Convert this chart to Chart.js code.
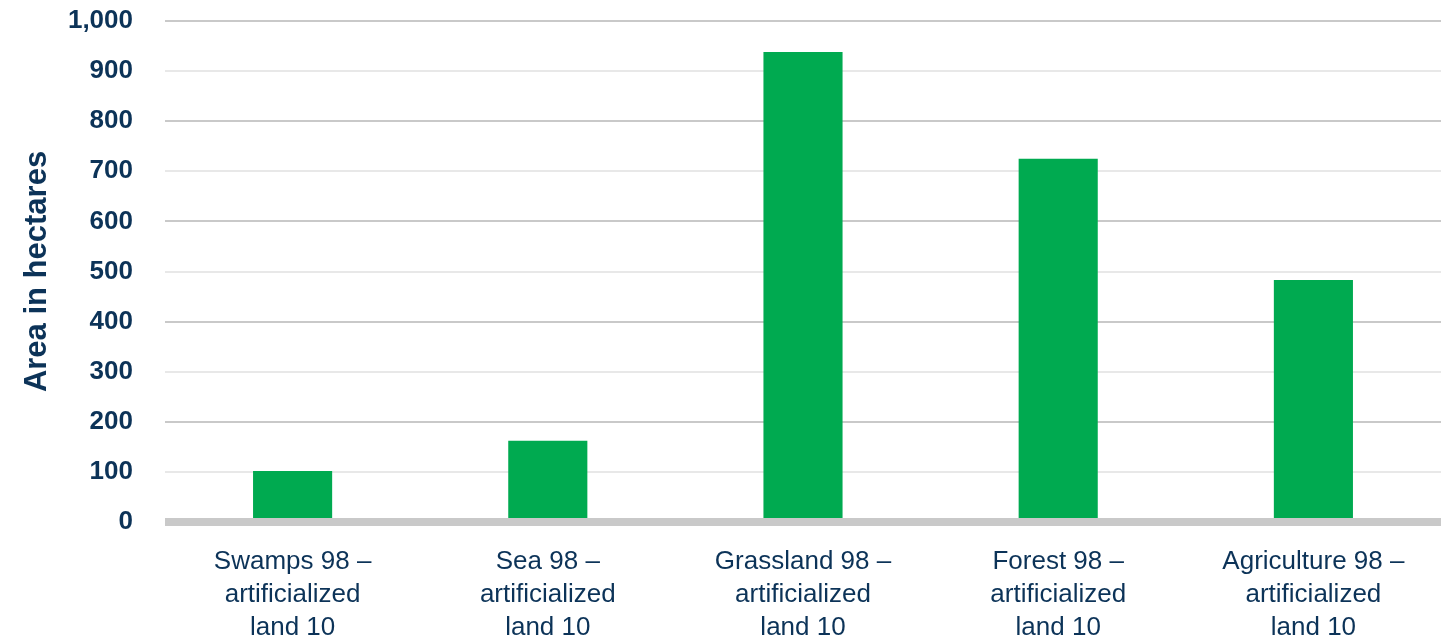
<!DOCTYPE html>
<html>
<head>
<meta charset="utf-8">
<script src="https://cdn.jsdelivr.net/npm/chart.js@4/dist/chart.umd.min.js"></script>
<style>
  html, body { margin: 0; padding: 0; background: #ffffff; }
  #wrap { width: 1441px; height: 643px; position: relative; }
</style>
</head>
<body>
<div id="wrap"><canvas id="c"></canvas></div>
<script>
const categories = [
  ["Swamps 98 –", "artificialized", "land 10"],
  ["Sea 98 –", "artificialized", "land 10"],
  ["Grassland 98 –", "artificialized", "land 10"],
  ["Forest 98 –", "artificialized", "land 10"],
  ["Agriculture 98 –", "artificialized", "land 10"]
];
const areaValues = [102, 162, 938, 725, 483];
const yTitle = "Area in hectares";

const navy = "#0c3358";
const font = "'Liberation Sans', Arial, sans-serif";

new Chart(document.getElementById("c"), {
  type: "bar",
  data: {
    labels: categories,
    datasets: [{
      data: areaValues,
      backgroundColor: "#00aa50",
      borderWidth: 0,
      barPercentage: 0.31,
      categoryPercentage: 1.0
    }]
  },
  options: {
    responsive: true,
    maintainAspectRatio: false,
    animation: false,
    layout: { padding: { left: 19, top: 21, right: 0, bottom: 0 } },
    plugins: { legend: { display: false }, tooltip: { enabled: false } },
    scales: {
      x: {
        grid: { display: false, drawTicks: false },
        border: { display: false },
        ticks: {
          color: navy,
          padding: 23,
          maxRotation: 0,
          autoSkip: false,
          font: { family: font, size: 26, lineHeight: 1.27 }
        },
        afterFit: (s) => {
          s.height = 121;
          s.paddingLeft = 0; s.paddingRight = 0;
          s.paddingTop = 0; s.paddingBottom = 0;
        }
      },
      y: {
        min: 0,
        max: 1000,
        grid: {
          drawTicks: false,
          color: (ctx) => {
            if (!ctx.tick) return "#e6e6e6";
            return ctx.tick.value % 200 === 0 ? "#c9c9c9" : "#e8e8e8";
          },
          lineWidth: (ctx) => (ctx.tick && ctx.tick.value === 0 ? 8 : 2)
        },
        border: { display: false },
        ticks: {
          stepSize: 100,
          color: navy,
          padding: 32,
          font: { family: font, size: 26, weight: "bold" },
          callback: (v) => v.toLocaleString("en-US")
        },
        title: {
          display: true,
          text: yTitle,
          color: navy,
          padding: { top: 0, bottom: 0 },
          font: { family: font, size: 31, weight: "bold" }
        },
        afterFit: (s) => {
          s.width = 146;
          s.paddingTop = 0; s.paddingBottom = 0;
          s.paddingLeft = 0; s.paddingRight = 0;
        }
      }
    }
  }
});
</script>
</body>
</html>
